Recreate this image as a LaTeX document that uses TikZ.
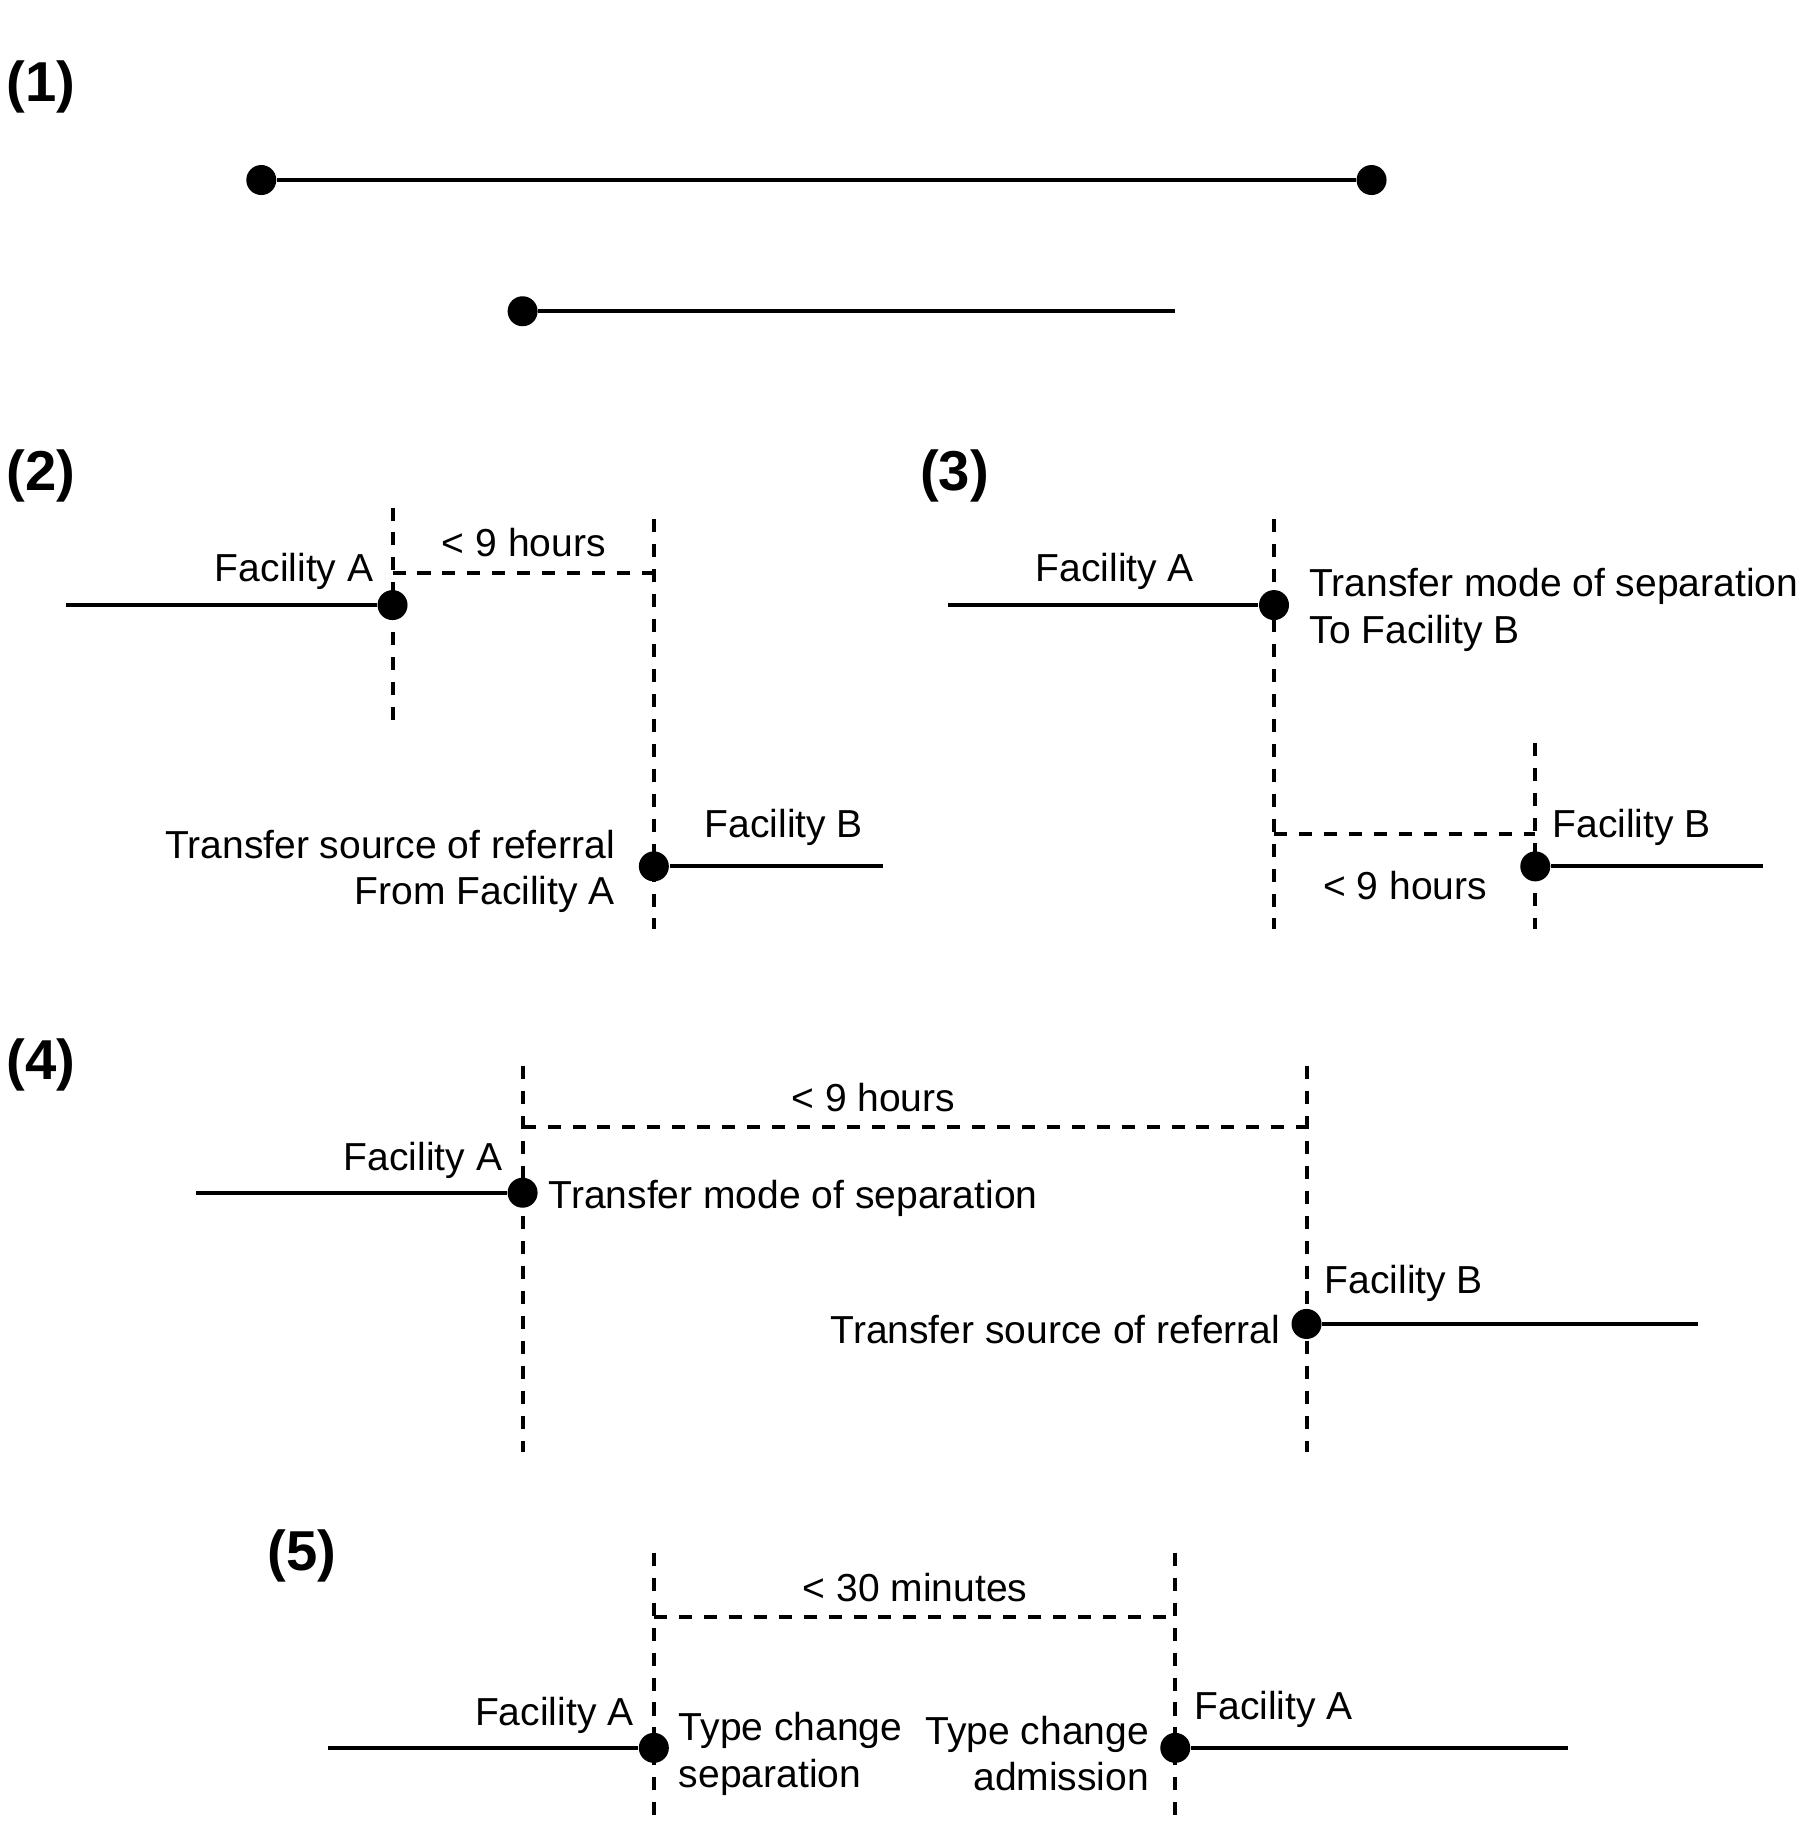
\documentclass[tikz,border=0pt]{standalone}
\usepackage{fontspec}
\setmainfont{Liberation Sans}
\tikzset{
  dot/.style={circle,fill=black,inner sep=0pt,minimum size=0.3cm},
  stay/.style={line width=1.2pt},
  gap/.style={line width=1.15pt,dash pattern=on 3.7pt off 3.4pt},
  lbl/.style={font=\fontsize{11.1}{13.2}\selectfont,inner sep=0pt,yshift=-0.7pt},
  part/.style={font=\fontsize{16}{18}\selectfont\bfseries,inner sep=0pt},
}
\begin{document}
\begin{tikzpicture}[x=0.011613cm,y=-0.011613cm]
  \useasboundingbox (0,0) rectangle (1550,1568);
  % (1)
  \node[part] (p1) at (35,75) {(1)};
  \node[dot] (a1) at (225,155) {};
  \node[dot] (b1) at (1181,155) {};
  \draw[stay] (a1) -- (b1);
  \node[dot] (a2) at (450,268) {};
  \coordinate (b2) at (1012,268);
  \draw[stay] (a2) -- (b2);
  % (2)
  \node[part] (p2) at (35,410) {(2)};
  \coordinate (s2) at (57,521);
  \node[dot] (d2a) at (338,521) {};
  \draw[stay] (s2) -- (d2a);
  \coordinate (v2at) at (338,437);
  \coordinate (v2ab) at (338,620);
  \coordinate (v2bt) at (563,447);
  \coordinate (v2bb) at (563,800);
  \coordinate (h2a) at (338,493);
  \coordinate (h2b) at (563,493);
  \draw[gap] (v2at) -- (v2ab);
  \draw[gap] (v2bt) -- (v2bb);
  \draw[gap] (h2a) -- (h2b);
  \node[lbl] (w2) at (451,465) {< 9 hours};
  \node[lbl,anchor=east] (f2a) at (322,490) {Facility A};
  \node[dot] (d2b) at (563,746) {};
  \coordinate (e2) at (760,746);
  \draw[stay] (d2b) -- (e2);
  \node[lbl] (f2b) at (675,710) {Facility B};
  \node[lbl,anchor=east,align=right] (r2) at (530,748) {Transfer source of referral\\From Facility A};
  % (3)
  \node[part] (p3) at (822,410) {(3)};
  \coordinate (s3) at (816,521);
  \node[dot] (d3a) at (1097,521) {};
  \draw[stay] (s3) -- (d3a);
  \coordinate (v3at) at (1097,447);
  \coordinate (v3ab) at (1097,800);
  \coordinate (v3bt) at (1322,640);
  \coordinate (v3bb) at (1322,800);
  \coordinate (h3a) at (1097,718);
  \coordinate (h3b) at (1322,718);
  \draw[gap] (v3at) -- (v3ab);
  \draw[gap] (v3bt) -- (v3bb);
  \draw[gap] (h3a) -- (h3b);
  \node[lbl] (f3a) at (960,490) {Facility A};
  \node[lbl,anchor=west,align=left] (m3) at (1127,523) {Transfer mode of separation\\To Facility B};
  \node[dot] (d3b) at (1322,746) {};
  \coordinate (e3) at (1518,746);
  \draw[stay] (d3b) -- (e3);
  \node[lbl] (f3b) at (1405,710) {Facility B};
  \node[lbl] (w3) at (1210,760) {< 9 hours};
  % (4)
  \node[part] (p4) at (35,917) {(4)};
  \coordinate (v4at) at (450,918);
  \coordinate (v4ab) at (450,1250);
  \coordinate (v4bt) at (1125,918);
  \coordinate (v4bb) at (1125,1250);
  \coordinate (h4a) at (450,970);
  \coordinate (h4b) at (1125,970);
  \draw[gap] (v4at) -- (v4ab);
  \draw[gap] (v4bt) -- (v4bb);
  \draw[gap] (h4a) -- (h4b);
  \node[lbl] (w4) at (752,943) {< 9 hours};
  \coordinate (s4) at (169,1027);
  \node[dot] (d4a) at (450,1027) {};
  \draw[stay] (s4) -- (d4a);
  \node[lbl,anchor=east] (f4a) at (433,997) {Facility A};
  \node[lbl,anchor=west] (m4) at (472,1030) {Transfer mode of separation};
  \node[dot] (d4b) at (1125,1140) {};
  \coordinate (e4) at (1462,1140);
  \draw[stay] (d4b) -- (e4);
  \node[lbl,anchor=west] (f4b) at (1140,1103) {Facility B};
  \node[lbl,anchor=east] (r4) at (1103,1143) {Transfer source of referral};
  % (5)
  \node[part] (p5) at (260,1340) {(5)};
  \coordinate (v5at) at (563,1337);
  \coordinate (v5ab) at (563,1568);
  \coordinate (v5bt) at (1012,1337);
  \coordinate (v5bb) at (1012,1568);
  \coordinate (h5a) at (563,1392);
  \coordinate (h5b) at (1012,1392);
  \draw[gap] (v5at) -- (v5ab);
  \draw[gap] (v5bt) -- (v5bb);
  \draw[gap] (h5a) -- (h5b);
  \node[lbl] (w5) at (788,1365) {< 30 minutes};
  \coordinate (s5) at (282,1505);
  \node[dot] (d5a) at (563,1505) {};
  \draw[stay] (s5) -- (d5a);
  \node[lbl,anchor=east] (f5a) at (546,1475) {Facility A};
  \node[lbl,anchor=west,align=left] (c5a) at (584,1508) {Type change\\separation};
  \node[lbl,anchor=east,align=right] (c5b) at (990,1508) {Type change\\admission};
  \node[dot] (d5b) at (1012,1505) {};
  \coordinate (e5) at (1350,1505);
  \draw[stay] (d5b) -- (e5);
  \node[lbl,anchor=west] (f5b) at (1028,1470) {Facility A};
\end{tikzpicture}
\end{document}
